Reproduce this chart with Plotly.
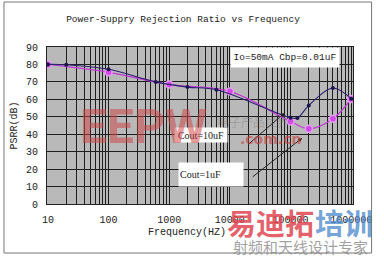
import plotly.graph_objects as go

# ---- data ----
navy_freq = [10, 20, 100, 600, 2000, 6000, 100000, 130000, 200000, 500000, 1000000]
navy_psrr = [80, 79.8, 77.2, 70, 67, 65.5, 49.5, 49.3, 56.5, 66.5, 60.3]
mag_freq = [10, 100, 1000, 10000, 100000, 200000, 500000, 1000000]
mag_psrr = [80, 75.5, 68.5, 64.5, 47.3, 43.2, 48.9, 60.2]
x_ticks = [10, 100, 1000, 10000, 100000, 1000000]
x_ticklabels = ["10", "100", "1000", "10000", "100000", "1000000"]
y_ticks = [0, 10, 20, 30, 40, 50, 60, 70, 80, 90]

W, H = 384, 259
L, R, T, B = 47, 24, 47, 55
pw, ph = W - L - R, H - T - B

def px(x):
    return (x - L) / pw

def py(y):
    return (H - B - y) / ph

MONO = "Liberation Mono"
fig = go.Figure()

fig.add_trace(go.Scatter(
    x=mag_freq, y=mag_psrr, mode="lines+markers", line_shape="spline",
    line=dict(color="#c23ad6", width=1.3),
    marker=dict(size=7, color="#d24ae6", line=dict(color="rgba(235,160,245,0.9)", width=1.5)),
    showlegend=False, hoverinfo="skip"))
fig.add_trace(go.Scatter(
    x=navy_freq, y=navy_psrr, mode="lines+markers", line_shape="spline",
    line=dict(color="#2a236e", width=1.1),
    marker=dict(size=4, color="#1c1650"),
    showlegend=False, hoverinfo="skip"))

minor_vals = [m * 10 ** e for e in range(1, 7) for m in range(2, 10)]

fig.update_xaxes(
    type="log", range=[0.985, 6.03],
    tickvals=x_ticks, ticktext=x_ticklabels, ticks="",
    showgrid=True, gridcolor="#1e1e1e", gridwidth=1,
    minor=dict(tickvals=minor_vals, showgrid=True, gridcolor="#1e1e1e", gridwidth=1, ticks=""),
    showline=True, linecolor="#222", linewidth=1, mirror=True,
    tickfont=dict(family=MONO, size=10, color="#222"), ticklabelstandoff=6,
    zeroline=False)
fig.update_yaxes(
    range=[0, 90], tickvals=y_ticks, ticks="",
    showgrid=True, gridcolor="#1e1e1e", gridwidth=1,
    showline=True, linecolor="#222", linewidth=1, mirror=True,
    tickfont=dict(family=MONO, size=10, color="#222"), ticklabelstandoff=6,
    title=dict(text="PSRR(dB)", font=dict(family=MONO, size=10, color="#222"), standoff=6),
    zeroline=False)

def A(text, x, y, **kw):
    d = dict(text=text, x=px(x), y=py(y), xref="paper", yref="paper",
             xanchor="center", yanchor="middle", showarrow=False)
    d.update(kw)
    return d

ann = []
# x-axis title
ann.append(A("Frequency(HZ)", 190, 232, font=dict(family=MONO, size=10, color="#222")))
# info boxes
ann.append(A("Io=50mA Cbp=0.01uF", 290, 57.5, bgcolor="white", width=106, height=17, borderpad=1,
             font=dict(family=MONO, size=9.5, color="#222")))
ann.append(A("Cout=10uF", 204.5, 135, bgcolor="white", width=50, height=12, borderpad=1,
             font=dict(family="Liberation Serif", size=10, color="#222")))
ann.append(A("Cout=1uF", 215, 174.5, bgcolor="white", width=62, height=21, borderpad=1, align="left",
             font=dict(family="Liberation Serif", size=10, color="#222")))
# arrows
ann.append(dict(text="", x=px(290), y=py(113), xref="paper", yref="paper", showarrow=True,
                ax=-37, ay=32, arrowhead=2, arrowsize=0.8, arrowwidth=1, arrowcolor="#222"))
ann.append(dict(text="", x=px(308), y=py(138), xref="paper", yref="paper", showarrow=True,
                ax=-51, ay=40, arrowhead=2, arrowsize=0.8, arrowwidth=1, arrowcolor="#222"))
# watermarks
ann.append(A("<b>EEPW</b>", 146, 126.5,
             font=dict(family="Roboto", size=48, color="rgba(205,70,70,0.55)")))
ann.append(A("<b>.com.cn</b>", 276, 139,
             font=dict(family="DejaVu Sans", size=14, color="rgba(200,60,60,0.6)")))
ann.append(A("电子产品世界", 258, 121,
             font=dict(family="Noto Sans CJK SC", size=12, color="rgba(110,110,110,0.35)")))
ann.append(A("<b>易迪拓</b>", 276, 222,
             font=dict(family="Noto Sans CJK SC", size=29, color="rgba(222,70,80,0.85)")))
ann.append(A("<b>培训</b>", 351, 222,
             font=dict(family="Noto Sans CJK SC", size=29, color="rgba(80,140,205,0.8)")))
ann.append(A("射频和天线设计专家", 306, 246,
             font=dict(family="Noto Sans CJK SC", size=15, color="rgba(130,130,130,0.75)")))

fig.update_layout(
    width=W, height=H,
    margin=dict(l=L, r=R, t=T, b=B),
    paper_bgcolor="white", plot_bgcolor="#b9b9b9",
    title=dict(text="Power-Suppry Rejection Ratio vs Frequency", x=183 / W, y=1 - 19 / H,
               xanchor="center", yanchor="middle",
               font=dict(family=MONO, size=9.5, color="#222")),
    annotations=ann,
    shapes=[dict(type="rect", xref="paper", yref="paper",
                 x0=px(3), x1=px(379), y0=py(253), y1=py(2),
                 line=dict(color="#777", width=1), fillcolor="rgba(0,0,0,0)", layer="above")],
)

fig.write_html("out.html")
